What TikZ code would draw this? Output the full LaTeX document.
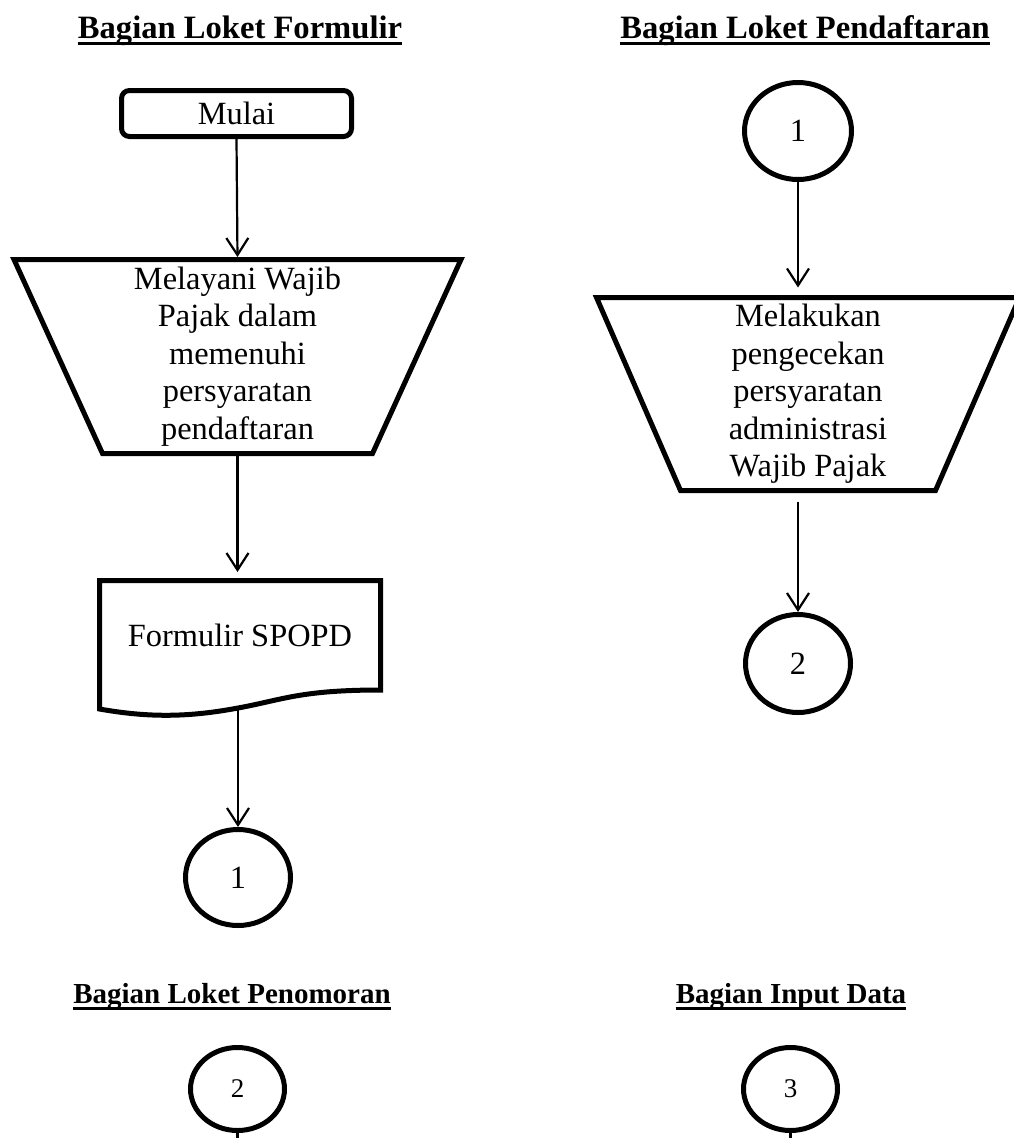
\documentclass[tikz,border=0pt]{standalone}
\usepackage{fontspec}
\setmainfont{Liberation Serif}
\usetikzlibrary{arrows.meta,shapes.geometric}
\begin{document}
\begin{tikzpicture}[x=1pt,y=-1pt,
  body/.style={font=\fontsize{32.4}{37.5}\selectfont},
  ttl/.style={font=\fontsize{32.6}{38}\selectfont\bfseries, inner sep=0pt, anchor=base},
  ttlsm/.style={font=\fontsize{29}{34}\selectfont\bfseries, inner sep=0pt, anchor=base},
  uline/.style={line width=3pt},
  startbox/.style={body, draw, line width=5pt, rounded corners=8pt, minimum width=230pt, minimum height=46pt, inner sep=0pt},
  shapebox/.style={body, align=center, inner sep=0pt, outer sep=0pt},
  shapeline/.style={line width=5pt, line join=miter},
  conn/.style={line width=2.2pt, -{Straight Barb[length=17pt,width=22pt]}},
  conbig/.style={body, ellipse, draw, line width=5pt, inner sep=0pt},
  consm/.style={font=\fontsize{27}{32}\selectfont, ellipse, draw, line width=5pt, inner sep=0pt},
]
\useasboundingbox (0,0) rectangle (1014,1138);

% titles
\node[ttl] (t1) at (240,38) {Bagian Loket Formulir};
\node[ttl] (t2) at (805,38) {Bagian Loket Pendaftaran};
\node[ttlsm] (t3) at (232,1003) {Bagian Loket Penomoran};
\node[ttlsm] (t4) at (791,1003) {Bagian Input Data};
\draw[uline] ([yshift=-5.5pt]t1.base west) -- ([yshift=-5.5pt]t1.base east);
\draw[uline] ([yshift=-5.5pt]t2.base west) -- ([yshift=-5.5pt]t2.base east);
\draw[uline] ([yshift=-5pt]t3.base west) -- ([yshift=-5pt]t3.base east);
\draw[uline] ([yshift=-5pt]t4.base west) -- ([yshift=-5pt]t4.base east);

% left column
\node[startbox] (mulai) at (236.5,113.5) {Mulai};
\node[shapebox, minimum width=447pt, minimum height=194pt] (trap1) at (237.5,356.5)
  {Melayani Wajib\\Pajak dalam\\memenuhi\\persyaratan\\pendaftaran};
\draw[shapeline] (trap1.north west) -- (trap1.north east)
  -- ([xshift=-88.5pt]trap1.south east) -- ([xshift=88.5pt]trap1.south west) -- cycle;
\node[shapebox, minimum width=281pt, minimum height=109.5pt] (doc) at (240,635.25) {Formulir SPOPD};
\draw[shapeline] (doc.north west) -- (doc.north east) -- (doc.south east)
  .. controls (300,690) and (282,700) .. (238,708)
  .. controls (190,717) and (150,718) .. (99.5,709) -- cycle;
\node[conbig, minimum width=105pt, minimum height=96pt] (c1l) at (238,877.5) {1};

\draw[conn, shorten >=2.5pt] (mulai.south) -- (trap1.north);
\draw[conn, shorten >=8.5pt] (trap1.south) -- (trap1.south |- doc.north);
\draw[conn, shorten <=19pt] (c1l.north |- doc.south) -- (c1l.north);

% right column
\node[conbig, minimum width=107pt, minimum height=97pt] (c1r) at (798,131) {1};
\node[shapebox, minimum width=423pt, minimum height=193pt] (trap2) at (808,394)
  {Melakukan\\pengecekan\\persyaratan\\administrasi\\Wajib Pajak};
\draw[shapeline] (trap2.north west) -- (trap2.north east)
  -- ([xshift=-84pt]trap2.south east) -- ([xshift=84pt]trap2.south west) -- cycle;
\node[conbig, minimum width=105pt, minimum height=98pt] (c2r) at (798,663.5) {2};

\draw[conn, shorten >=10pt] (c1r.south) -- (c1r.south |- trap2.north);
\draw[conn, shorten <=11pt] (c2r.north |- trap2.south) -- (c2r.north);

% bottom sections
\node[consm, minimum width=94pt, minimum height=83pt] (c2b) at (237.5,1089) {2};
\node[consm, minimum width=94pt, minimum height=83pt] (c3b) at (790.5,1089) {3};
\coordinate (e2) at (237.5,1150);
\coordinate (e3) at (790.5,1150);
\draw[line width=2.2pt] (c2b.south) -- (e2);
\draw[line width=2.2pt] (c3b.south) -- (e3);
\end{tikzpicture}
\end{document}
